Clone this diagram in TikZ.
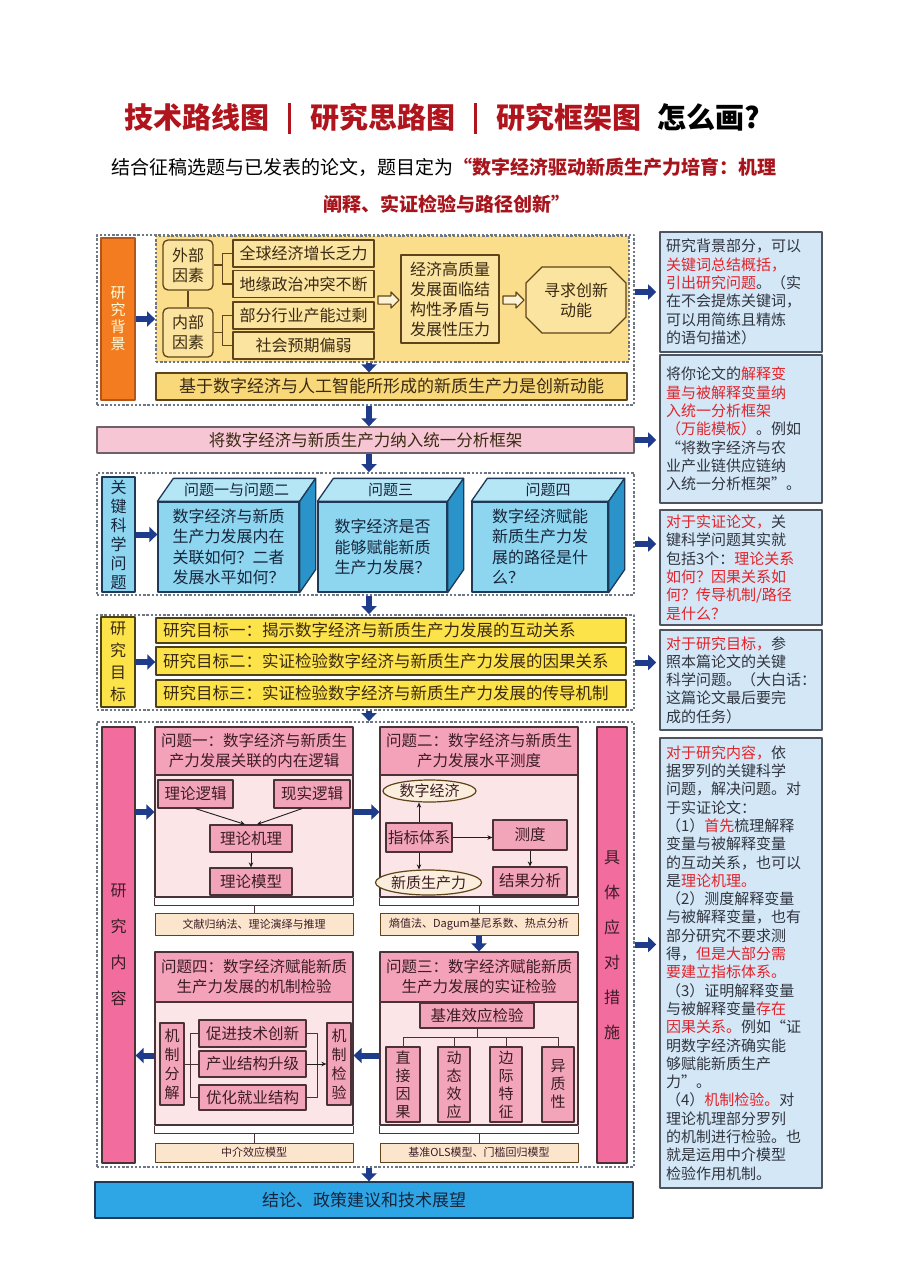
\documentclass[tikz,border=0pt]{standalone}
\usepackage{fontspec}
\setmainfont{Noto Sans CJK SC}
\usetikzlibrary{arrows.meta,calc,shapes.arrows,shapes.misc,shapes.geometric}
\definecolor{titlered}{HTML}{B0141C}
\definecolor{subred}{HTML}{A8141C}
\definecolor{figink}{HTML}{1E1E1E}
\definecolor{framegray}{HTML}{707784}
\definecolor{arrblue}{HTML}{1F3C8C}
\definecolor{bgorange}{HTML}{F37B20}
\definecolor{bgorangeline}{HTML}{B4561A}
\definecolor{bgyellow}{HTML}{FADE8C}
\definecolor{boxyellow}{HTML}{FBE3A0}
\definecolor{baryellow}{HTML}{F8D878}
\definecolor{brownline}{HTML}{5E4418}
\definecolor{brownink}{HTML}{3A2A12}
\definecolor{barpink}{HTML}{F6C6D5}
\definecolor{pinkline}{HTML}{6E6268}
\definecolor{kqblue}{HTML}{8ED6F0}
\definecolor{cubetopc}{HTML}{B4E6F6}
\definecolor{cubesidec}{HTML}{2A93C9}
\definecolor{blueline}{HTML}{1D3A58}
\definecolor{blueink}{HTML}{17253C}
\definecolor{goalyellow}{HTML}{FDE34A}
\definecolor{goalline}{HTML}{4C4216}
\definecolor{hotpink}{HTML}{F26C9E}
\definecolor{headpink}{HTML}{F3A2B9}
\definecolor{bodypink}{HTML}{FBE5E7}
\definecolor{innerpink}{HTML}{F2A5B8}
\definecolor{capbeige}{HTML}{FBE5CC}
\definecolor{ovalfill}{HTML}{FBEEDC}
\definecolor{pinkink}{HTML}{3C1C26}
\definecolor{darkline}{HTML}{4A3238}
\definecolor{conclblue}{HTML}{2EA6E6}
\definecolor{notefill}{HTML}{D4E7F6}
\definecolor{noteline}{HTML}{4F5560}
\definecolor{noteink}{HTML}{30353F}
\definecolor{notered}{HTML}{E2232A}
\newcommand{\redtxt}[1]{\textcolor{notered}{#1}}
\newcommand{\titlebar}{\hspace{19pt}\textcolor{titlered}{\rule[-5pt]{3pt}{31pt}}\hspace{19pt}}

\tikzset{
  sz/.style 2 args={minimum width=#1pt, minimum height=#2pt},
  lab/.style={inner sep=0pt, align=center},
  secframe/.style={draw=framegray, line width=1.8pt, dash pattern=on 2.4pt off 1.8pt, inner sep=0pt},
  flowarr/.style={draw=arrblue, line width=6pt, -{Triangle[width=15pt,length=8pt]}},
  linkarr/.style={draw=figink, line width=0.9pt, -{Stealth[length=5pt,width=4.5pt]}},
  ylink/.style={draw=brownline, line width=1.2pt},
  ybox/.style={lab, draw=brownline, fill=boxyellow, line width=1.3pt, text=brownink, font=\fontsize{16}{20}\selectfont},
  hollow/.style={single arrow, draw=brownline, fill=white!55!boxyellow, line width=1.1pt, inner sep=3.5pt,
    single arrow head extend=4pt, minimum height=21pt},
  cubefront/.style={lab, draw=blueline, fill=kqblue, line width=1.3pt, text=blueink, font=\fontsize{16}{20.5}\selectfont, align=left},
  cubetop/.style={draw=blueline, fill=cubetopc, line width=1.3pt},
  cubeside/.style={draw=blueline, fill=cubesidec, line width=1.3pt},
  goalbar/.style={lab, draw=goalline, fill=goalyellow, line width=1.4pt, text=brownink, font=\fontsize{16.5}{20}\selectfont,
    text width=456pt, align=left, inner xsep=7pt},
  phead/.style={lab, draw=darkline, fill=headpink, line width=1.2pt, text=pinkink, font=\fontsize{15.5}{20}\selectfont, sz={198}{48}},
  pbody/.style={draw=darkline, fill=bodypink, line width=1.2pt, inner sep=0pt, minimum width=198pt},
  pbox/.style={lab, draw=darkline, fill=innerpink, line width=1.2pt, text=pinkink, font=\fontsize{15.5}{19}\selectfont},
  poval/.style={lab, ellipse, draw=brownline, fill=ovalfill, line width=1.2pt, text=pinkink, font=\fontsize{15}{18}\selectfont},
  pcap/.style={lab, draw=brownline, fill=capbeige, line width=1pt, text=pinkink, font=\fontsize{11}{13}\selectfont, minimum width=198pt},
  plink/.style={draw=darkline, line width=1pt},
  notebox/.style={draw=noteline, fill=notefill, line width=1.6pt, text=noteink, font=\fontsize{15}{18.3}\selectfont,
    align=left, text width=150pt, inner xsep=6pt, inner ysep=3pt},
}

\begin{document}
\begin{tikzpicture}[x=1pt, y=-1pt, line join=round]
  \useasboundingbox (0,0) rectangle (904,1280);
  \fill[white] (0,0) rectangle (904,1280);

  % 标题与题目
  \node[inner sep=0pt, anchor=west, font=\fontsize{29}{29}\selectfont\bfseries] (title) at (124,118)
    {\textcolor{titlered}{技术路线图}\titlebar\textcolor{titlered}{研究思路图}\titlebar\textcolor{titlered}{研究框架图}\hspace{16pt}怎么画?};
  \node[inner sep=0pt, anchor=west, font=\fontsize{19}{19}\selectfont] (sub1) at (111,167)
    {结合征稿选题与已发表的论文，题目定为\textcolor{subred}{\bfseries “数字经济驱动新质生产力培育：机理}};
  \node[inner sep=0pt, font=\fontsize{19}{19}\selectfont\bfseries, text=subred] (sub2) at (447,204)
    {阐释、实证检验与路径创新”};

  \coordinate (spine) at (369,0);

  % ---------- 研究背景 ----------
  \node[secframe, sz={537}{170}] (bgframe) at (365.5,320) {};
  \node[lab, draw=bgorangeline, fill=bgorange, line width=1.3pt, text=white!85!yellow,
        font=\fontsize{15}{17}\selectfont, sz={34}{162}] (bglab) at (118,319) {研\\究\\背\\景};
  \node[secframe, fill=bgyellow, sz={473}{126}] (bgin) at (392.5,299) {};
  \node[ybox, rounded corners=5pt, sz={50}{50}] (ext) at (188,265) {外部\\因素};
  \node[ybox, rounded corners=5pt, sz={50}{49}] (int) at (188,332.5) {内部\\因素};
  \node[ybox, sz={141}{27}] (g1) at (303.5,253.5) {全球经济增长乏力};
  \node[ybox, sz={141}{27}] (g2) at (303.5,284) {地缘政治冲突不断};
  \node[ybox, sz={141}{27}] (g3) at (303.5,315.5) {部分行业产能过剩};
  \node[ybox, sz={141}{27}] (g4) at (303.5,345.5) {社会预期偏弱};
  \node[ybox, sz={98}{88}] (press) at (450,299) {经济高质量\\发展面临结\\构性矛盾与\\发展性压力};
  \node[ybox, chamfered rectangle, chamfered rectangle xsep=8pt, chamfered rectangle ysep=8pt,
        sz={100}{66}] (seek) at (576,300) {寻求创新\\动能};
  \node[hollow] (ha1) at (386.5,300) {};
  \node[hollow] (ha2) at (511.5,300) {};
  \node[ybox, fill=baryellow, font=\fontsize{17}{20}\selectfont, sz={471}{27}] (jy) at (391.5,386.5)
    {基于数字经济与人工智能所形成的新质生产力是创新动能};

  \draw[ylink] (ext.south) -- (int.north);
  \coordinate (extj) at ($(ext.east)+(9,0)$);
  \coordinate (intj) at ($(int.east)+(9,0)$);
  \draw[ylink] (ext.east) -- (extj);
  \draw[ylink] (g1.west) -| (extj) |- (g2.west);
  \draw[ylink] (int.east) -- (intj);
  \draw[ylink] (g3.west) -| (intj) |- (g4.west);

  \draw[flowarr] (bglab.east) -- (bglab.east -| bgin.west);
  \draw[flowarr] (bgin.south -| spine) -- (jy.north -| spine);

  % ---------- 统一分析框架 ----------
  \node[lab, draw=pinkline, fill=barpink, line width=1.3pt, text=brownink,
        font=\fontsize{16.5}{20}\selectfont, sz={537}{26}] (tjkj) at (365.5,440)
    {将数字经济与新质生产力纳入统一分析框架};
  \draw[flowarr] (bgframe.south -| spine) -- (tjkj.north -| spine);

  % ---------- 关键科学问题 ----------
  \node[secframe, sz={537}{122}] (kqframe) at (365.5,534) {};
  \draw[flowarr] (tjkj.south -| spine) -- (kqframe.north -| spine);
  \node[lab, draw=blueline, fill=kqblue, line width=1.3pt, text=blueink,
        font=\fontsize{16}{19}\selectfont, sz={33}{115}] (kqlab) at (118.5,534.5) {关\\键\\科\\学\\问\\题};
  \node[cubefront, sz={141}{90}] (q12) at (228.5,547)
    {数字经济与新质\\生产力发展内在\\关联如何？二者\\发展水平如何？};
  \node[cubefront, sz={129}{90}] (q3) at (382.5,547)
    {数字经济是否\\能够赋能新质\\生产力发展？};
  \node[cubefront, sz={136}{90}] (q4) at (540,547)
    {数字经济赋能\\新质生产力发\\展的路径是什\\么？};
  \foreach \q in {q12,q3,q4} {
    \filldraw[cubetop] (\q.north west) -- ++(16,-23) -- ($(\q.north east)+(16,-23)$) -- (\q.north east) -- cycle;
    \filldraw[cubeside] (\q.north east) -- ++(16,-23) -- ($(\q.south east)+(16,-23)$) -- (\q.south east) -- cycle;
  }
  \node[lab, text=blueink, font=\fontsize{15}{18}\selectfont] (q12t) at ($(q12.north)+(8,-11.5)$) {问题一与问题二};
  \node[lab, text=blueink, font=\fontsize{15}{18}\selectfont] (q3t) at ($(q3.north)+(8,-11.5)$) {问题三};
  \node[lab, text=blueink, font=\fontsize{15}{18}\selectfont] (q4t) at ($(q4.north)+(8,-11.5)$) {问题四};
  \draw[flowarr] (kqlab.east) -- (kqlab.east -| q12.west);

  % ---------- 研究目标 ----------
  \node[secframe, sz={537}{95}] (goalframe) at (365.5,662.5) {};
  \draw[flowarr] (kqframe.south -| spine) -- (goalframe.north -| spine);
  \node[lab, draw=goalline, fill=goalyellow, line width=1.3pt, text=brownink,
        font=\fontsize{16}{22}\selectfont, sz={34}{90}] (goallab) at (118,662) {研\\究\\目\\标};
  \node[goalbar, minimum height=25pt] (gl1) at (391,630.5) {研究目标一：揭示数字经济与新质生产力发展的互动关系};
  \node[goalbar, minimum height=28pt] (gl2) at (391,661) {研究目标二：实证检验数字经济与新质生产力发展的因果关系};
  \node[goalbar, minimum height=27pt] (gl3) at (391,693.5) {研究目标三：实证检验数字经济与新质生产力发展的传导机制};
  \draw[flowarr] (goallab.east) -- (goallab.east -| gl2.west);

  % ---------- 研究内容 ----------
  \node[secframe, sz={537}{445}] (cntframe) at (365.5,944.5) {};
  \draw[flowarr] (goalframe.south -| spine) -- (cntframe.north -| spine);
  \node[lab, draw=darkline, fill=hotpink, line width=1.3pt, text=pinkink,
        font=\fontsize{16}{36}\selectfont, sz={33}{436}] (yjnr) at (118.5,945) {研\\究\\内\\容};
  \node[lab, draw=darkline, fill=hotpink, line width=1.3pt, text=pinkink,
        font=\fontsize{16}{35}\selectfont, sz={30}{436}] (jtcs) at (612,945) {具\\体\\应\\对\\措\\施};

  % 问题一
  \node[phead] (h1) at (254,751) {问题一：数字经济与新质生\\产力发展关联的内在逻辑};
  \node[pbody, minimum height=122pt] (b1) at (254,836) {};
  \node[pbox, sz={75}{28}] (llj) at (195.5,794) {理论逻辑};
  \node[pbox, sz={76}{28}] (xsj) at (312,794) {现实逻辑};
  \node[pbox, sz={82}{27}] (jl) at (251,838.5) {理论机理};
  \node[pbox, sz={82}{27}] (mx) at (251,881.5) {理论模型};
  \draw[linkarr] (llj.south) -- ([xshift=-6pt]jl.north);
  \draw[linkarr] ([xshift=-10pt]xsj.south) -- ([xshift=6pt]jl.north);
  \draw[linkarr] (jl.south) -- (mx.north);
  \node[pcap, minimum height=22pt] (c1) at (254,924) {文献归纳法、理论演绎与推理};

  % 问题二
  \node[phead] (h2) at (479,751) {问题二：数字经济与新质生\\产力发展水平测度};
  \node[pbody, minimum height=122pt] (b2) at (479,836) {};
  \node[poval, sz={93}{22}] (szjj) at (429.5,791) {数字经济};
  \node[pbox, sz={66}{29}] (zb) at (419,837.5) {指标体系};
  \node[poval, sz={95}{25}] (xzsc) at (428.5,882.5) {新质生产力};
  \node[pbox, sz={74}{30}] (cd) at (530,835) {测度};
  \node[pbox, sz={74}{28}] (jgfx) at (530,881) {结果分析};
  \draw[linkarr] (zb.north) -- (zb.north |- szjj.south);
  \draw[linkarr] (zb.south) -- (zb.south |- xzsc.north);
  \draw[linkarr] (zb.east) -- (zb.east -| cd.west);
  \draw[linkarr] (cd.south) -- (jgfx.north);
  \node[pcap, minimum height=22pt] (c2) at (479,924) {熵值法、Dagum基尼系数、热点分析};

  % 问题四
  \node[phead, minimum height=50pt] (h3) at (254,977) {问题四：数字经济赋能新质\\生产力发展的机制检验};
  \node[pbody, minimum height=123pt] (b3) at (254,1063.5) {};
  \node[pbox, font=\fontsize{15}{19}\selectfont, sz={24}{82}] (mjfj) at (172,1064) {机\\制\\分\\解};
  \node[pbox, sz={107}{27}] (m1) at (252.5,1033.5) {促进技术创新};
  \node[pbox, sz={107}{26}] (m2) at (252.5,1064) {产业结构升级};
  \node[pbox, sz={107}{25}] (m3) at (252.5,1097.5) {优化就业结构};
  \node[pbox, font=\fontsize{15}{19}\selectfont, sz={24}{82}] (mjjy) at (339,1064) {机\\制\\检\\验};
  \coordinate (mjL) at ($(mjfj.east)+(6,0)$);
  \coordinate (mjR) at ($(m2.east)+(11,0)$);
  \draw[plink] (mjfj.east) -- (m2.west);
  \draw[plink] (m1.west) -| (mjL) |- (m3.west);
  \draw[plink] (m1.east) -| (mjR) |- (m3.east);
  \draw[linkarr] (m2.east) -- (mjjy.west);
  \node[pcap, minimum height=19pt] (c3) at (254,1152.5) {中介效应模型};

  % 问题三
  \node[phead, minimum height=50pt] (h4) at (479,977) {问题三：数字经济赋能新质\\生产力发展的实证检验};
  \node[pbody, minimum height=123pt] (b4) at (479,1063.5) {};
  \node[pbox, sz={114}{25}] (jz) at (477,1015.5) {基准效应检验};
  \node[pbox, font=\fontsize{15}{18}\selectfont, sz={34}{75}] (d1) at (403,1084.5) {直\\接\\因\\果};
  \node[pbox, font=\fontsize{15}{18}\selectfont, sz={32}{75}] (d2) at (454,1084.5) {动\\态\\效\\应};
  \node[pbox, font=\fontsize{15}{18}\selectfont, sz={32}{75}] (d3) at (506,1084.5) {边\\际\\特\\征};
  \node[pbox, font=\fontsize{15}{18}\selectfont, sz={32}{75}] (d4) at (558,1084.5) {异\\质\\性};
  \coordinate (jzT) at ($(jz.south)+(0,9)$);
  \draw[plink] (jz.south) -- (jzT);
  \draw[plink] (d1.north) |- (jzT) -| (d4.north);
  \draw[plink] (d2.north) -- (d2.north |- jzT);
  \draw[plink] (d3.north) -- (d3.north |- jzT);
  \node[pcap, minimum height=19pt] (c4) at (479,1152.5) {基准OLS模型、门槛回归模型};

  % 面板下方括线
  \foreach \b/\c in {b1/c1,b2/c2,b3/c3,b4/c4} {
    \draw[plink] (\b.south west) -- ++(0,8) -- ($(\b.south east)+(0,8)$) -- (\b.south east);
    \draw[plink] ($(\b.south)+(0,8)$) -- (\c.north);
  }

  % 研究内容中的流向
  \draw[flowarr] ($(yjnr.east |- b1.west)+(0,-24)$) -- ($(b1.west)+(0,-24)$);
  \draw[flowarr] ($(b1.east)+(0,-24)$) -- ($(b2.west)+(0,-24)$);
  \draw[flowarr] (c2.south) -- (h4.north);
  \draw[flowarr] ($(b4.west)+(0,-8)$) -- ($(b3.east)+(0,-8)$);
  \draw[flowarr] ($(b3.west)+(0,-8)$) -- ($(yjnr.east |- b3.west)+(0,-8)$);

  % ---------- 结论 ----------
  \node[lab, draw=blueline, fill=conclblue, line width=1.4pt, text=blueink,
        font=\fontsize{17}{20}\selectfont, sz={538}{36}] (concl) at (364,1200) {结论、政策建议和技术展望};
  \draw[flowarr] (cntframe.south -| spine) -- (concl.north -| spine);

  % ---------- 右侧说明 ----------
  \node[notebox, minimum height=120pt] (n1) at (741,292)
    {研究背景部分，可以\\
     \redtxt{关键词总结概括，}\\
     \redtxt{引出研究问题}。（实\\
     在不会提炼关键词，\\
     可以用简练且精炼\\
     的语句描述）};
  \node[notebox, minimum height=148pt] (n2) at (741,429)
    {将你论文的\redtxt{解释变}\\
     \redtxt{量与被解释变量纳}\\
     \redtxt{入统一分析框架}\\
     \redtxt{（万能模板）}。例如\\
     “将数字经济与农\\
     业产业链供应链纳\\
     入统一分析框架”。};
  \node[notebox, minimum height=115pt] (n3) at (741,567.5)
    {\redtxt{对于实证论文，}关\\
     键科学问题其实就\\
     包括3个：\redtxt{理论关系}\\
     \redtxt{如何？因果关系如}\\
     \redtxt{何？传导机制/路径}\\
     \redtxt{是什么？}};
  \node[notebox, minimum height=100pt] (n4) at (741,680)
    {\redtxt{对于研究目标，}参\\
     照本篇论文的关键\\
     科学问题。（大白话：\\
     这篇论文最后要完\\
     成的任务）};
  \node[notebox, minimum height=450pt] (n5) at (741,963)
    {\redtxt{对于研究内容，}依\\
     据罗列的关键科学\\
     问题，解决问题。对\\
     于实证论文：\\
     （1）\redtxt{首先}梳理解释\\
     变量与被解释变量\\
     的互动关系，也可以\\
     是\redtxt{理论机理。}\\
     （2）测度解释变量\\
     与被解释变量，也有\\
     部分研究不要求测\\
     得，\redtxt{但是大部分需}\\
     \redtxt{要建立指标体系。}\\
     （3）证明解释变量\\
     与被解释变量\redtxt{存在}\\
     \redtxt{因果关系。}例如“证\\
     明数字经济确实能\\
     够赋能新质生产\\
     力”。\\
     （4）\redtxt{机制检验。}对\\
     理论机理部分罗列\\
     的机制进行检验。也\\
     就是运用中介模型\\
     检验作用机制。};

  \draw[flowarr, shorten >=3pt] (n1.west -| bgframe.east) -- (n1.west);
  \draw[flowarr, shorten >=3pt] (tjkj.east) -- (tjkj.east -| n2.west);
  \draw[flowarr, shorten >=3pt] ($(kqframe.east)+(0,10)$) -- ($(kqframe.east -| n3.west)+(0,10)$);
  \draw[flowarr, shorten >=3pt] (goalframe.east) -- (goalframe.east -| n4.west);
  \draw[flowarr, shorten >=3pt] (cntframe.east) -- (cntframe.east -| n5.west);
\end{tikzpicture}
\end{document}
